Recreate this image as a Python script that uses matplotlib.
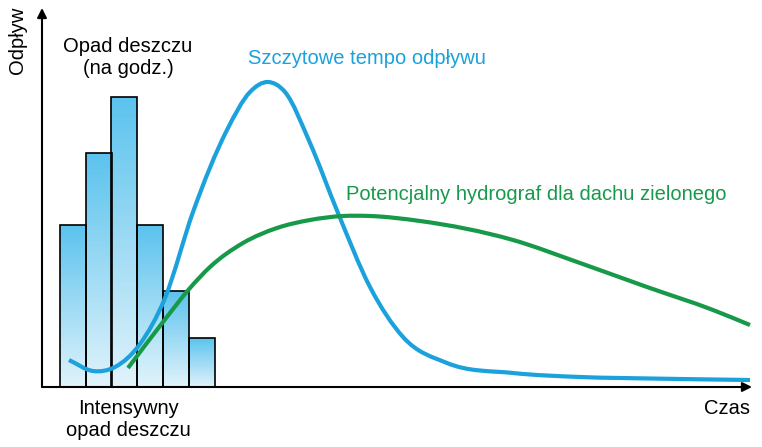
#!/usr/bin/env python3
import numpy as np
import matplotlib
matplotlib.use('Agg')
import matplotlib.pyplot as plt
from matplotlib.path import Path
from matplotlib.patches import PathPatch
from matplotlib.colors import LinearSegmentedColormap

# rain bars (hourly), centres in time units and heights in flow units
bar_x = [31, 57, 82, 108, 134, 160]
bar_h = [162, 234, 290, 162, 96, 49]
bar_w = 26

# peak runoff curve
blue_x = [27, 51, 73, 98, 123, 151, 185, 208, 226, 243, 268, 296, 328, 361, 405, 471, 538, 608, 708]
blue_y = [27, 16, 20, 43, 89, 175, 257, 295, 305, 295, 244, 174, 100, 50, 24, 14, 10, 8.5, 7]

# green roof hydrograph
green_x = [86, 121, 148, 168, 201, 235, 268, 301, 328, 378, 471, 538, 605, 671, 708]
green_y = [19, 65, 99, 120, 144, 159, 167, 171, 171, 166, 147, 124, 100, 77, 62]


def smooth_path(xs, ys):
    # hermite curve through the points (slopes from neighbours), as bezier segments
    x = np.asarray(xs, float)
    y = np.asarray(ys, float)
    h = np.diff(x)
    d = np.diff(y) / h
    m = np.empty_like(y)
    m[0], m[-1] = d[0], d[-1]
    m[1:-1] = (d[:-1] * h[1:] + d[1:] * h[:-1]) / (h[:-1] + h[1:])
    verts = [(x[0], y[0])]
    codes = [Path.MOVETO]
    for i in range(len(x) - 1):
        verts += [(x[i] + h[i] / 3, y[i] + m[i] * h[i] / 3),
                  (x[i + 1] - h[i] / 3, y[i + 1] - m[i + 1] * h[i] / 3),
                  (x[i + 1], y[i + 1])]
        codes += [Path.CURVE4] * 3
    return Path(verts, codes)


def main():
    fig = plt.figure(figsize=(7.62, 4.47), dpi=100)
    ax = fig.add_axes([42 / 762, 60 / 447, 710 / 762, 379 / 447])
    ax.set_xlim(0, 710)
    ax.set_ylim(0, 379)
    ax.axis('off')

    cmap = LinearSegmentedColormap.from_list('rain', ['#e0f3fb', '#5cc3ee'])
    grad = np.linspace(0, 1, 100).reshape(-1, 1)
    for x, h in zip(bar_x, bar_h):
        x0 = x - bar_w / 2
        ax.imshow(grad, extent=(x0, x0 + bar_w, 0, h), origin='lower', cmap=cmap,
                  aspect='auto', zorder=1)
        ax.add_patch(plt.Rectangle((x0, 0), bar_w, h, fill=False, edgecolor='black',
                                   linewidth=1.2, zorder=2))

    ax.add_patch(PathPatch(smooth_path(blue_x, blue_y), fill=False, edgecolor='#1ba1dc',
                           linewidth=3, capstyle='butt', zorder=3))
    ax.add_patch(PathPatch(smooth_path(green_x, green_y), fill=False, edgecolor='#17994a',
                           linewidth=3, capstyle='butt', zorder=3))

    ax.set_xlim(0, 710)
    ax.set_ylim(0, 379)

    arrow = dict(arrowstyle='-|>', color='black', linewidth=1.5, mutation_scale=14,
                 shrinkA=0, shrinkB=0)
    ax.annotate('', xy=(0, 379), xytext=(0, 0), arrowprops=arrow, annotation_clip=False)
    ax.annotate('', xy=(710, 0), xytext=(0, 0), arrowprops=arrow, annotation_clip=False)

    font = ['Liberation Sans', 'DejaVu Sans']
    fs = 14.5
    fig.text(18 / 762, 1 - 40 / 447, 'Odpływ', rotation=90, ha='center', va='center',
             fontsize=fs, family=font)
    fig.text(128 / 762, 1 - 58 / 447, 'Opad deszczu\n(na godz.)', ha='center', va='center',
             fontsize=fs, family=font, linespacing=1.2)
    fig.text(248 / 762, 1 - 58 / 447, 'Szczytowe tempo odpływu', ha='left', va='center',
             fontsize=fs, family=font, color='#1ba1dc')
    fig.text(346 / 762, 1 - 194 / 447, 'Potencjalny hydrograf dla dachu zielonego', ha='left',
             va='center', fontsize=fs, family=font, color='#17994a')
    fig.text(128 / 762, 1 - 420 / 447, 'Intensywny\nopad deszczu', ha='center', va='center',
             fontsize=fs, family=font, linespacing=1.2)
    fig.text(750 / 762, 1 - 408 / 447, 'Czas', ha='right', va='center', fontsize=fs, family=font)

    fig.savefig('out.png', dpi=100)


if __name__ == '__main__':
    main()
